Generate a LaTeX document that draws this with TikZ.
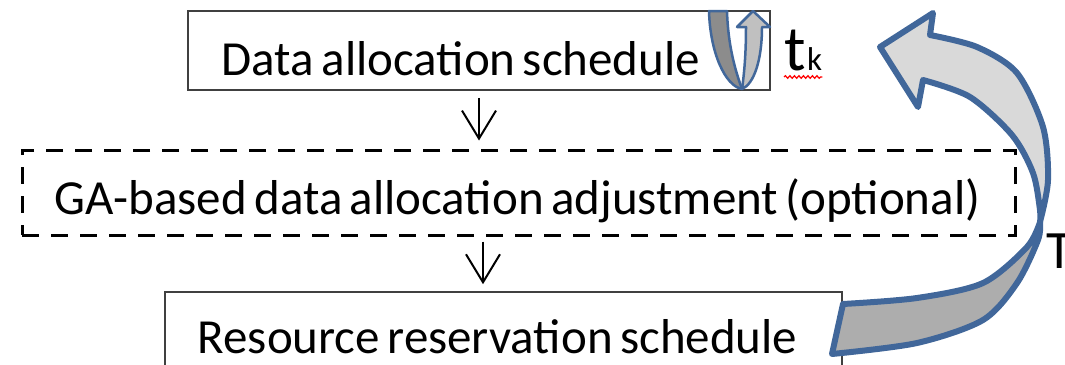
\documentclass[tikz,border=0pt]{standalone}
\usepackage{fontspec}
\setmainfont{Carlito}[WordSpace=0.67]
\usetikzlibrary{arrows.meta,decorations.pathmorphing}
\definecolor{arrowblue}{HTML}{41679A}
\definecolor{lightband}{HTML}{D9D9D9}
\definecolor{darkband}{HTML}{ADADAD}
\definecolor{uarmdark}{HTML}{8C8C8C}
\definecolor{uarmlight}{HTML}{C0C0C0}
\definecolor{boxline}{HTML}{404040}
\tikzset{
  box/.style={draw=boxline, line width=1.6pt, inner sep=0pt},
  dashbox/.style={draw=black, line width=3pt, dash pattern=on 17pt off 12pt, inner sep=0pt},
  txt/.style={inner sep=0pt, font=\fontsize{49}{54}\selectfont, text=black},
  bigtxt/.style={inner sep=0pt, font=\fontsize{54}{58}\selectfont, text=black},
  ttxt/.style={inner sep=0pt, font=\fontsize{64}{68}\selectfont, text=black},
  subtxt/.style={inner sep=0pt, font=\fontsize{33}{36}\selectfont, text=black},
  flowarrow/.style={draw=black, line width=2pt, -{Straight Barb[length=28pt,width=34pt,line width=2pt]}},
  curvearrow/.style={draw=arrowblue, line width=6pt, line join=round},
  smallarrow/.style={draw=arrowblue, line width=2.5pt, line join=round}
}
\begin{document}
\begin{tikzpicture}[x=1pt,y=-1pt]
\useasboundingbox (0,0) rectangle (1065,364);
% boxes
\node[box, minimum width=582pt, minimum height=79pt] (top) at (479,50.5) {};
\node[dashbox, minimum width=993pt, minimum height=85pt] (mid) at (518.5,192.5) {};
\node[box, minimum width=677pt, minimum height=120pt] (bot) at (503.5,352) {};
% texts
\node[txt, anchor=base] (t1) at (461,75) {Data allocation schedule};
\node[txt, anchor=base] (t2) at (517.5,214) {GA-based data allocation adjustment (optional)};
\node[txt, anchor=base] (t3) at (497.5,353) {Resource reservation schedule};
% flow arrows
\draw[flowarrow, shorten <=7pt, shorten >=8pt] (top.south) -- (top.south |- mid.north);
\draw[flowarrow, shorten <=5pt, shorten >=7pt] ([xshift=4pt]top.south |- mid.south) -- ([xshift=4pt]top.south |- bot.north);
% small U-turn arrow inside top box
\filldraw[smallarrow, fill=uarmdark] (709,11) .. controls (710,52) and (725,86) .. (742,89)
  .. controls (735,70) and (728,45) .. (727,11) -- cycle;
\filldraw[smallarrow, fill=uarmlight] (742,89) .. controls (754,84) and (762,60) .. (762,27)
  -- (770,27) -- (753,11) -- (737,27) -- (746,27) .. controls (746,55) and (744,75) .. (742,89) -- cycle;
% t_k label
\node[ttxt, anchor=base west] (tk) at (784,70) {t};
\node[subtxt, anchor=base west] (k) at ([xshift=1pt]tk.base east) {k};
\draw[red, line width=1.2pt, decorate, decoration={snake, amplitude=1.3pt, segment length=4.5pt}]
  ([yshift=-7pt]tk.base west) -- ([yshift=-7pt]k.base east);
% T label at right edge
\node[bigtxt, anchor=base west] (T) at (1046,268) {T};
% big curved arrow
\filldraw[curvearrow, fill=darkband]
  plot[smooth] coordinates {(1040,222) (1038,240) (1017,283) (983,320) (917,343) (832,354)}
  -- (843,304)
  -- plot[smooth] coordinates {(843,304) (917,298) (983,283) (1027,247) (1040,222)} -- cycle;
\filldraw[curvearrow, fill=lightband]
  plot[smooth] coordinates {(1040,222) (1048,180) (1043,127) (1017,73) (977,47) (930,35)}
  -- (933,13) -- (880,47) -- (918,107) -- (923,80)
  -- plot[smooth] coordinates {(923,80) (970,97) (1012,135) (1033,173) (1040,210) (1040,222)} -- cycle;
\end{tikzpicture}
\end{document}
